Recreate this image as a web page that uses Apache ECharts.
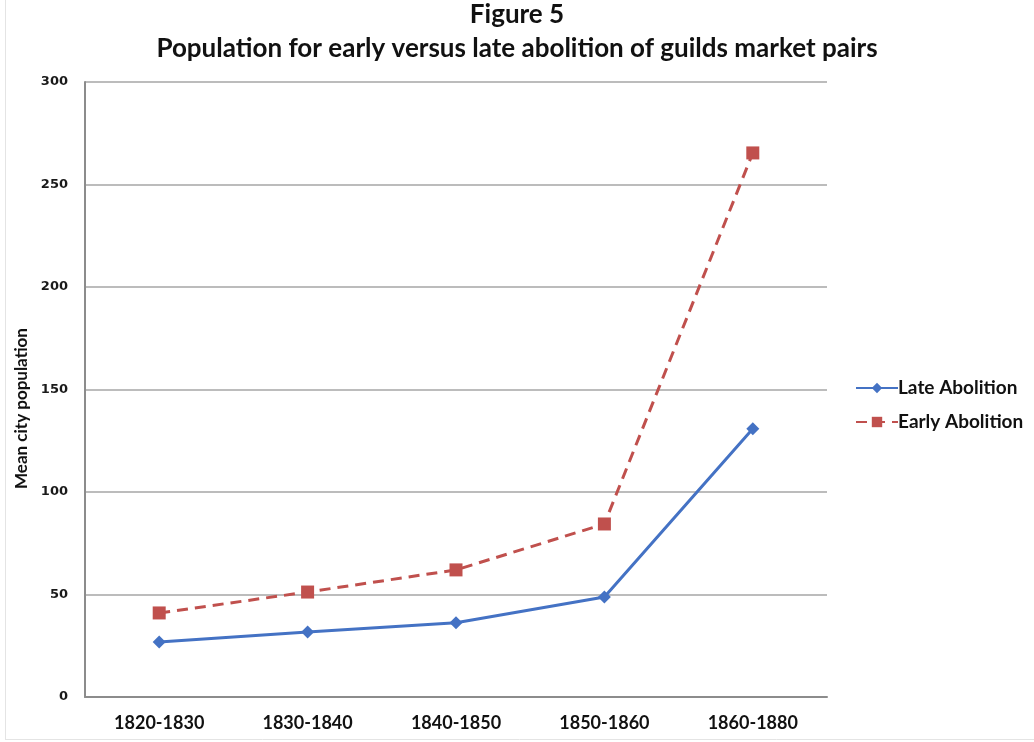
<!DOCTYPE html>
<html>
<head>
<meta charset="utf-8">
<script src="https://cdn.jsdelivr.net/npm/echarts@6/dist/echarts.min.js"></script>
<style>
  html, body { margin: 0; padding: 0; background: #ffffff; }
  #chart { width: 1034px; height: 742px; }
</style>
</head>
<body>
<div id="chart"></div>
<script>
// Decades compared
const categories = ['1820-1830', '1830-1840', '1840-1850', '1850-1860', '1860-1880'];
// Mean city population per period
const lateAbolition = [26.8, 31.7, 36.2, 48.8, 130.8];
const earlyAbolition = [41.0, 51.2, 62.0, 84.4, 265.4];
// Value axis ticks
const yTicks = [0, 50, 100, 150, 200, 250, 300];

const FONT = 'Lato, "Open Sans", sans-serif';

const chart = echarts.init(document.getElementById('chart'), null, { renderer: 'canvas' });

chart.setOption({
  backgroundColor: '#ffffff',
  animation: false,
  title: [
    {
      text: 'Figure 5',
      left: 'center',
      top: -3,
      textStyle: { fontFamily: FONT, fontSize: 26, fontWeight: 'bold', color: '#111' }
    },
    {
      text: 'Population for early versus late abolition of guilds market pairs',
      left: 'center',
      top: 31,
      textStyle: { fontFamily: FONT, fontSize: 26, fontWeight: 'bold', color: '#111' }
    }
  ],
  legend: {
    orient: 'vertical',
    left: 850,
    top: 373,
    itemWidth: 42,
    itemHeight: 13,
    itemGap: 14,
    textStyle: { fontFamily: FONT, fontSize: 19, lineHeight: 20, fontWeight: 'bold', color: '#111', padding: [0, 0, 0, -5] },
    data: ['Late Abolition', 'Early Abolition']
  },
  grid: { left: 85, right: 207, top: 82, bottom: 45, containLabel: false },
  xAxis: {
    type: 'category',
    data: categories,
    boundaryGap: true,
    axisLine: { show: true, lineStyle: { color: '#8c8c8c', width: 2 } },
    axisTick: { show: false },
    axisLabel: { margin: 17, fontFamily: FONT, fontSize: 18, fontWeight: 'bold', color: '#111' },
    splitLine: { show: false }
  },
  yAxis: {
    type: 'value',
    min: yTicks[0],
    max: yTicks[yTicks.length - 1],
    interval: 50,
    name: 'Mean city population',
    nameLocation: 'middle',
    nameGap: 53,
    nameTextStyle: { fontFamily: FONT, fontSize: 17, fontWeight: 'bold', color: '#111', padding: [0, 0, 0, -38] },
    axisLine: { show: true, lineStyle: { color: '#8c8c8c', width: 2 } },
    axisTick: { show: false },
    axisLabel: { margin: 17, fontFamily: '"DejaVu Sans", Verdana, sans-serif', fontSize: 13, fontWeight: 'bold', color: '#1a1a1a' },
    splitLine: { show: true, lineStyle: { color: '#a6a6a6', width: 1.5 } }
  },
  series: [
    {
      name: 'Late Abolition',
      type: 'line',
      data: lateAbolition,
      symbol: 'diamond',
      symbolSize: 13,
      itemStyle: { color: '#4472C4' },
      lineStyle: { color: '#4472C4', width: 3 },
      z: 3
    },
    {
      name: 'Early Abolition',
      type: 'line',
      data: earlyAbolition,
      symbol: 'rect',
      symbolSize: 13,
      itemStyle: { color: '#C0504D' },
      lineStyle: { color: '#C0504D', width: 3, type: [11, 7] },
      z: 2
    }
  ],
  graphic: [
    { type: 'line', shape: { x1: 5.5, y1: 0, x2: 5.5, y2: 740 }, style: { stroke: '#e4e4e4', lineWidth: 1 }, silent: true },
    { type: 'line', shape: { x1: 5, y1: 739.5, x2: 1034, y2: 739.5 }, style: { stroke: '#e4e4e4', lineWidth: 1 }, silent: true }
  ]
});
</script>
</body>
</html>
